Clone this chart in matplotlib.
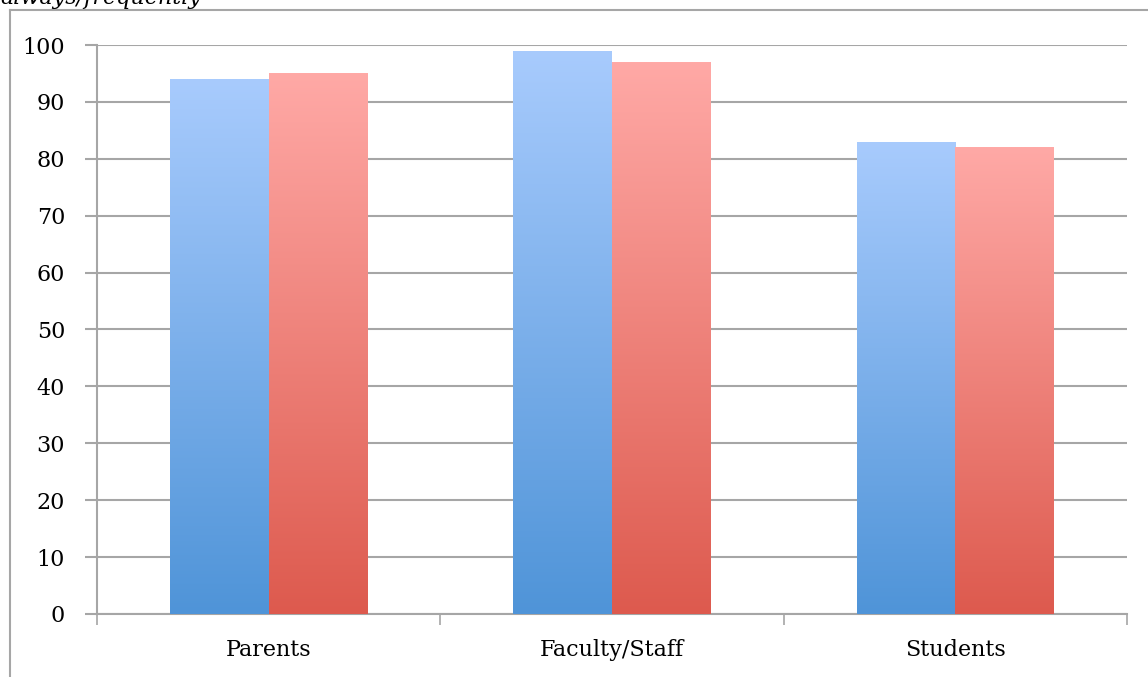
import numpy as np
import matplotlib
matplotlib.use('Agg')
import matplotlib.pyplot as plt
from matplotlib.colors import LinearSegmentedColormap

## data
categories = ['Parents', 'Faculty/Staff', 'Students']
series_a = [94, 99, 83]   # blue
series_b = [95, 97, 82]   # red
title_text = 'always/frequently'

GRAY = '#a6a6a6'
plt.rcParams['font.family'] = ['DejaVu Serif']

blue_cmap = LinearSegmentedColormap.from_list('b', ['#4f94d8', '#a8cbfd'])
red_cmap = LinearSegmentedColormap.from_list('r', ['#dd5a4e', '#ffa9a6'])

fig = plt.figure(figsize=(11.48, 6.77), dpi=100)
ax = fig.add_axes([0.0845, 0.0931, 0.8972, 0.8404])

x = np.arange(len(categories)) + 0.5
w = 0.2875

def grad_bars(xpos, vals, cmap):
    bars = ax.bar(xpos, vals, width=w, color='none', edgecolor='none', zorder=3)
    grad = np.linspace(0, 1, 256).reshape(-1, 1)
    for b in bars:
        x0, y0 = b.get_x(), b.get_y()
        im = ax.imshow(grad, cmap=cmap, origin='lower', aspect='auto',
                       extent=[x0, x0 + b.get_width(), y0, y0 + b.get_height()],
                       zorder=3)
        im.set_clip_path(b)
    return bars

grad_bars(x - w / 2, series_a, blue_cmap)
grad_bars(x + w / 2, series_b, red_cmap)

ax.set_xlim(0, 3)
ax.set_ylim(0, 100)
ax.set_aspect('auto')

ax.set_yticks(np.arange(0, 101, 10))
ax.yaxis.grid(True, color=GRAY, linewidth=1.5, zorder=0)
ax.set_axisbelow(True)

ax.set_xticks([0, 1, 2, 3])
ax.set_xticks(x, minor=True)
ax.set_xticklabels([])
ax.set_xticklabels(categories, minor=True)
ax.tick_params(axis='x', which='major', length=8, width=1.2, color=GRAY, direction='out')
ax.tick_params(axis='x', which='minor', length=0, pad=18, labelsize=16)
ax.tick_params(axis='y', length=9, width=1.5, color=GRAY, labelsize=16, pad=14)

for s in ['top', 'right']:
    ax.spines[s].set_visible(False)
for s in ['left', 'bottom']:
    ax.spines[s].set_color(GRAY)
    ax.spines[s].set_linewidth(1.5)
ax.spines['left'].set_bounds(0, 100)

## outer frame
fig.add_artist(plt.Line2D([10 / 1148, 1.0], [1 - 10 / 677] * 2, color=GRAY, lw=1.5))
fig.add_artist(plt.Line2D([10 / 1148] * 2, [0, 1 - 10 / 677], color=GRAY, lw=1.5))

fig.text(0.0, 1 - 4 / 677, title_text, style='italic', fontsize=16, va='baseline', ha='left')

fig.savefig('out.png', dpi=100)
